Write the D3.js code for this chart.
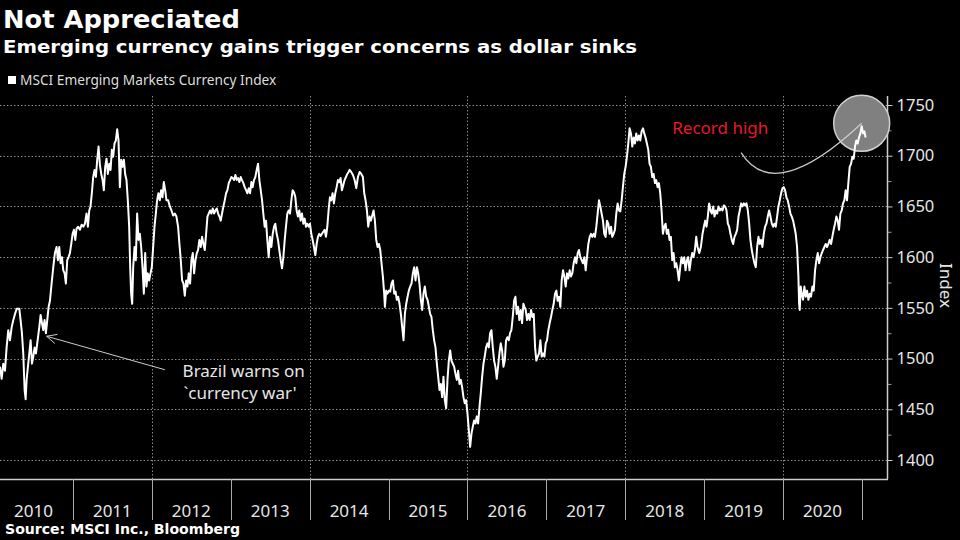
<!DOCTYPE html>
<html>
<head>
<meta charset="utf-8">
<script src="https://cdn.jsdelivr.net/npm/d3@7"></script>
<style>
  html, body { margin: 0; padding: 0; background: #000; }
  svg { display: block; }
</style>
</head>
<body>
<svg id="chart" width="960" height="540"></svg>
<script>
// MSCI Emerging Markets Currency Index: [decimal year, index]
var emCurrencyIndex = [
  [2010.076,1492],[2010.097,1480],[2010.118,1495],[2010.139,1488],[2010.160,1511],[2010.181,1528],[2010.202,1518],[2010.224,1531],[2010.245,1538],[2010.266,1544],[2010.287,1549],[2010.321,1549],[2010.337,1538],[2010.354,1525],[2010.371,1505],[2010.388,1469],[2010.401,1460],[2010.413,1479],[2010.430,1492],[2010.447,1505],[2010.464,1518],[2010.481,1495],[2010.498,1502],[2010.515,1511],[2010.532,1505],[2010.548,1515],[2010.574,1531],[2010.591,1543],[2010.608,1535],[2010.624,1528],[2010.641,1538],[2010.658,1525],[2010.675,1538],[2010.692,1551],[2010.709,1557],[2010.730,1574],[2010.751,1590],[2010.772,1604],[2010.793,1610],[2010.810,1597],[2010.827,1610],[2010.844,1594],[2010.861,1600],[2010.878,1587],[2010.895,1584],[2010.911,1574],[2010.928,1597],[2010.945,1600],[2010.962,1604],[2010.979,1613],[2010.996,1623],
  [2011.013,1627],[2011.030,1617],[2011.046,1628],[2011.067,1630],[2011.089,1627],[2011.110,1632],[2011.131,1630],[2011.152,1633],[2011.173,1643],[2011.190,1630],[2011.207,1646],[2011.223,1650],[2011.240,1663],[2011.257,1679],[2011.274,1686],[2011.291,1679],[2011.308,1696],[2011.325,1709],[2011.342,1691],[2011.359,1682],[2011.376,1676],[2011.392,1666],[2011.409,1689],[2011.426,1697],[2011.443,1682],[2011.460,1692],[2011.477,1686],[2011.494,1706],[2011.510,1699],[2011.527,1712],[2011.544,1715],[2011.561,1726],[2011.578,1715],[2011.595,1669],[2011.612,1696],[2011.629,1689],[2011.646,1696],[2011.662,1682],[2011.679,1676],[2011.696,1656],[2011.713,1630],[2011.726,1590],[2011.738,1564],[2011.751,1554],[2011.764,1590],[2011.781,1610],[2011.797,1597],[2011.814,1643],[2011.831,1617],[2011.848,1623],[2011.865,1610],[2011.882,1590],[2011.899,1564],[2011.916,1604],[2011.932,1571],[2011.949,1584],[2011.966,1577],[2011.983,1584],
  [2012.000,1590],[2012.017,1610],[2012.034,1630],[2012.051,1643],[2012.067,1656],[2012.084,1663],[2012.101,1656],[2012.118,1666],[2012.135,1659],[2012.152,1674],[2012.169,1666],[2012.186,1656],[2012.207,1656],[2012.228,1650],[2012.249,1646],[2012.270,1641],[2012.291,1643],[2012.312,1640],[2012.333,1630],[2012.350,1613],[2012.367,1597],[2012.384,1577],[2012.401,1574],[2012.418,1562],[2012.435,1577],[2012.451,1571],[2012.468,1584],[2012.485,1574],[2012.502,1597],[2012.519,1604],[2012.536,1584],[2012.553,1597],[2012.570,1604],[2012.586,1607],[2012.603,1617],[2012.620,1610],[2012.637,1620],[2012.654,1613],[2012.671,1607],[2012.688,1623],[2012.705,1640],[2012.721,1643],[2012.738,1646],[2012.755,1643],[2012.772,1648],[2012.789,1643],[2012.806,1646],[2012.823,1648],[2012.840,1643],[2012.857,1640],[2012.873,1636],[2012.890,1643],[2012.907,1650],[2012.924,1656],[2012.941,1663],[2012.958,1666],[2012.975,1673],[2012.992,1676],
  [2013.008,1679],[2013.025,1678],[2013.042,1676],[2013.059,1681],[2013.076,1676],[2013.093,1678],[2013.110,1674],[2013.127,1679],[2013.143,1676],[2013.160,1673],[2013.177,1669],[2013.194,1666],[2013.211,1663],[2013.228,1668],[2013.245,1663],[2013.262,1674],[2013.278,1669],[2013.295,1676],[2013.312,1679],[2013.329,1686],[2013.346,1692],[2013.363,1676],[2013.380,1666],[2013.397,1656],[2013.413,1643],[2013.430,1630],[2013.447,1636],[2013.464,1617],[2013.481,1600],[2013.498,1620],[2013.515,1610],[2013.532,1623],[2013.549,1630],[2013.565,1633],[2013.582,1623],[2013.599,1617],[2013.616,1607],[2013.633,1597],[2013.650,1589],[2013.667,1600],[2013.684,1617],[2013.700,1630],[2013.717,1643],[2013.734,1646],[2013.751,1643],[2013.768,1656],[2013.785,1666],[2013.802,1664],[2013.819,1659],[2013.835,1646],[2013.852,1640],[2013.869,1646],[2013.886,1636],[2013.903,1643],[2013.920,1633],[2013.937,1638],[2013.954,1630],[2013.970,1633],[2013.987,1630],
  [2014.004,1633],[2014.021,1623],[2014.038,1617],[2014.055,1610],[2014.072,1602],[2014.089,1613],[2014.105,1620],[2014.122,1623],[2014.139,1621],[2014.156,1623],[2014.173,1625],[2014.190,1627],[2014.207,1620],[2014.224,1630],[2014.240,1646],[2014.257,1659],[2014.274,1656],[2014.291,1663],[2014.308,1653],[2014.325,1663],[2014.342,1669],[2014.359,1676],[2014.375,1674],[2014.392,1678],[2014.409,1666],[2014.426,1671],[2014.443,1676],[2014.460,1679],[2014.477,1682],[2014.494,1684],[2014.506,1686],[2014.527,1684],[2014.549,1681],[2014.570,1676],[2014.591,1668],[2014.612,1679],[2014.633,1684],[2014.654,1682],[2014.675,1679],[2014.692,1663],[2014.709,1656],[2014.726,1646],[2014.743,1630],[2014.760,1640],[2014.776,1636],[2014.793,1641],[2014.810,1646],[2014.827,1636],[2014.844,1617],[2014.861,1610],[2014.878,1613],[2014.895,1607],[2014.911,1594],[2014.928,1581],[2014.945,1564],[2014.954,1551],[2014.970,1567],[2014.987,1564],
  [2015.004,1567],[2015.021,1566],[2015.038,1574],[2015.055,1577],[2015.072,1564],[2015.089,1566],[2015.105,1558],[2015.122,1561],[2015.139,1554],[2015.156,1544],[2015.173,1531],[2015.190,1518],[2015.207,1544],[2015.224,1554],[2015.241,1561],[2015.257,1567],[2015.274,1571],[2015.291,1574],[2015.308,1584],[2015.325,1590],[2015.342,1577],[2015.359,1590],[2015.376,1584],[2015.392,1574],[2015.409,1558],[2015.426,1548],[2015.443,1564],[2015.460,1571],[2015.477,1561],[2015.494,1558],[2015.511,1551],[2015.527,1544],[2015.544,1541],[2015.561,1528],[2015.578,1518],[2015.595,1511],[2015.612,1495],[2015.629,1482],[2015.646,1469],[2015.662,1475],[2015.679,1462],[2015.696,1482],[2015.713,1459],[2015.730,1451],[2015.747,1479],[2015.764,1498],[2015.781,1508],[2015.797,1498],[2015.814,1495],[2015.831,1492],[2015.848,1485],[2015.865,1479],[2015.882,1488],[2015.899,1475],[2015.916,1479],[2015.932,1472],[2015.949,1462],[2015.966,1456],[2015.983,1459],
  [2016.000,1446],[2016.017,1430],[2016.034,1413],[2016.051,1426],[2016.068,1433],[2016.084,1439],[2016.101,1436],[2016.118,1443],[2016.135,1436],[2016.152,1452],[2016.169,1466],[2016.186,1482],[2016.203,1495],[2016.219,1502],[2016.236,1511],[2016.253,1515],[2016.270,1511],[2016.287,1525],[2016.304,1528],[2016.321,1511],[2016.338,1498],[2016.354,1492],[2016.371,1480],[2016.388,1492],[2016.405,1505],[2016.422,1515],[2016.439,1508],[2016.456,1492],[2016.473,1498],[2016.489,1518],[2016.506,1521],[2016.523,1518],[2016.540,1525],[2016.557,1528],[2016.574,1541],[2016.591,1557],[2016.608,1561],[2016.624,1544],[2016.641,1551],[2016.658,1538],[2016.675,1548],[2016.692,1535],[2016.709,1554],[2016.722,1551],[2016.738,1548],[2016.755,1538],[2016.772,1544],[2016.789,1538],[2016.806,1548],[2016.823,1541],[2016.840,1544],[2016.857,1511],[2016.873,1498],[2016.890,1502],[2016.907,1505],[2016.924,1518],[2016.941,1502],[2016.958,1505],[2016.975,1502],[2016.992,1515],
  [2017.008,1518],[2017.025,1528],[2017.042,1535],[2017.059,1541],[2017.076,1548],[2017.093,1554],[2017.110,1564],[2017.127,1567],[2017.143,1557],[2017.160,1561],[2017.177,1551],[2017.194,1577],[2017.211,1587],[2017.228,1581],[2017.245,1571],[2017.262,1584],[2017.278,1579],[2017.295,1587],[2017.312,1581],[2017.329,1584],[2017.346,1594],[2017.363,1600],[2017.380,1594],[2017.397,1604],[2017.413,1607],[2017.430,1600],[2017.447,1597],[2017.464,1594],[2017.481,1600],[2017.498,1587],[2017.515,1600],[2017.532,1613],[2017.549,1620],[2017.565,1623],[2017.582,1620],[2017.599,1623],[2017.616,1620],[2017.633,1630],[2017.650,1643],[2017.667,1656],[2017.684,1650],[2017.700,1643],[2017.717,1636],[2017.734,1623],[2017.751,1620],[2017.768,1636],[2017.785,1633],[2017.802,1623],[2017.819,1630],[2017.835,1620],[2017.852,1623],[2017.869,1627],[2017.886,1643],[2017.903,1653],[2017.920,1646],[2017.937,1645],[2017.954,1656],[2017.970,1669],[2017.987,1682],
  [2018.004,1689],[2018.021,1699],[2018.038,1712],[2018.055,1727],[2018.072,1722],[2018.089,1709],[2018.106,1718],[2018.122,1712],[2018.139,1722],[2018.156,1715],[2018.173,1720],[2018.190,1715],[2018.207,1724],[2018.224,1727],[2018.241,1722],[2018.257,1718],[2018.274,1712],[2018.291,1706],[2018.308,1692],[2018.325,1689],[2018.342,1679],[2018.359,1682],[2018.376,1673],[2018.392,1676],[2018.409,1669],[2018.426,1673],[2018.443,1663],[2018.460,1646],[2018.477,1623],[2018.494,1630],[2018.511,1633],[2018.527,1623],[2018.544,1627],[2018.561,1617],[2018.578,1620],[2018.595,1597],[2018.612,1604],[2018.629,1590],[2018.646,1594],[2018.663,1587],[2018.679,1577],[2018.696,1590],[2018.713,1600],[2018.730,1594],[2018.747,1600],[2018.764,1587],[2018.781,1597],[2018.797,1600],[2018.814,1587],[2018.831,1597],[2018.848,1604],[2018.865,1600],[2018.882,1607],[2018.899,1620],[2018.916,1610],[2018.937,1604],[2018.958,1610],[2018.979,1623],[2018.996,1630],
  [2019.013,1636],[2019.030,1630],[2019.046,1640],[2019.063,1653],[2019.080,1646],[2019.097,1643],[2019.114,1650],[2019.131,1640],[2019.148,1646],[2019.165,1643],[2019.181,1650],[2019.198,1646],[2019.215,1648],[2019.232,1646],[2019.249,1651],[2019.266,1650],[2019.283,1646],[2019.300,1633],[2019.316,1630],[2019.333,1623],[2019.350,1617],[2019.367,1613],[2019.384,1620],[2019.401,1623],[2019.418,1627],[2019.435,1640],[2019.451,1646],[2019.468,1653],[2019.485,1650],[2019.502,1653],[2019.519,1651],[2019.536,1653],[2019.553,1646],[2019.570,1633],[2019.586,1617],[2019.603,1607],[2019.620,1600],[2019.637,1594],[2019.654,1590],[2019.671,1610],[2019.688,1620],[2019.705,1613],[2019.722,1617],[2019.738,1610],[2019.755,1623],[2019.772,1630],[2019.789,1633],[2019.806,1640],[2019.823,1646],[2019.840,1640],[2019.857,1633],[2019.874,1630],[2019.890,1633],[2019.907,1630],[2019.924,1640],[2019.941,1650],[2019.958,1656],[2019.975,1663],[2019.992,1668],
  [2020.008,1669],[2020.025,1666],[2020.042,1659],[2020.059,1656],[2020.076,1650],[2020.093,1643],[2020.110,1640],[2020.127,1636],[2020.143,1630],[2020.160,1623],[2020.177,1610],[2020.194,1581],[2020.203,1554],[2020.211,1548],[2020.224,1571],[2020.236,1564],[2020.253,1558],[2020.270,1571],[2020.287,1561],[2020.304,1567],[2020.321,1558],[2020.338,1564],[2020.354,1561],[2020.371,1571],[2020.388,1567],[2020.405,1587],[2020.422,1597],[2020.439,1604],[2020.456,1594],[2020.473,1600],[2020.490,1604],[2020.506,1607],[2020.523,1610],[2020.540,1613],[2020.557,1610],[2020.574,1613],[2020.591,1617],[2020.608,1613],[2020.624,1620],[2020.641,1627],[2020.658,1633],[2020.675,1640],[2020.692,1636],[2020.709,1627],[2020.726,1643],[2020.743,1646],[2020.759,1653],[2020.776,1656],[2020.793,1666],[2020.810,1656],[2020.827,1673],[2020.844,1689],[2020.861,1692],[2020.878,1699],[2020.895,1697],[2020.911,1709],[2020.928,1715],[2020.945,1712],[2020.962,1718],[2020.979,1722],[2020.996,1729],
  [2021.013,1722],[2021.030,1724],[2021.046,1718]
];

var yearLabels = [2010, 2011, 2012, 2013, 2014, 2015, 2016, 2017, 2018, 2019, 2020];
var yearBreaks = [2011, 2012, 2013, 2014, 2015, 2016, 2017, 2018, 2019, 2020, 2021];
var gridYears = [2012, 2014, 2016, 2018, 2020];
var yTicks = [1400, 1450, 1500, 1550, 1600, 1650, 1700, 1750];
var yMinorTicks = [1425, 1475, 1525, 1575, 1625, 1675, 1725];

var titleText = "Not Appreciated";
var subtitleText = "Emerging currency gains trigger concerns as dollar sinks";
var legendText = "MSCI Emerging Markets Currency Index";
var sourceText = "Source: MSCI Inc., Bloomberg";
var brazilNote = ["Brazil warns on", "`currency war'"];
var brazilPoint = [2010.667, 1522];   // arrow tip (date, index)
var brazilTail = [2012.165, 1489];
var recordNote = "Record high";
var recordPoint = [2020.996, 1729];
var recordCurve = [[2019.468, 1703], [2019.886, 1651]];  // curve start, control

/*************************************************
    Setup
 *************************************************/
var svg = d3.select("#chart");
var plotRight = 887, plotTop = 96, plotBottom = 479;

var x = d3.scaleLinear().domain([2010, 2021]).range([-6, 862]);
var y = d3.scaleLinear().domain([1400, 1750]).range([460, 105]);

var sans = "'Noto Sans', 'Open Sans', sans-serif";
var bold = "'DejaVu Sans', Verdana, sans-serif";

svg.append("rect").attr("width", 960).attr("height", 540).attr("fill", "#000");

// Titles
svg.append("text").attr("x", 3).attr("y", 28)
    .attr("fill", "#fff").attr("font-family", bold).attr("font-weight", "bold")
    .attr("font-size", 25).attr("textLength", 237).attr("lengthAdjust", "spacingAndGlyphs")
    .text(titleText);
svg.append("text").attr("x", 3).attr("y", 53)
    .attr("fill", "#fff").attr("font-family", bold).attr("font-weight", "bold")
    .attr("font-size", 18).attr("textLength", 634).attr("lengthAdjust", "spacingAndGlyphs")
    .text(subtitleText);

// Legend
svg.append("rect").attr("x", 8).attr("y", 76).attr("width", 8).attr("height", 8).attr("fill", "#fff");
svg.append("text").attr("x", 20).attr("y", 85)
    .attr("fill", "#ddd").attr("font-family", sans).attr("font-size", 13.7)
    .text(legendText);

// Grid
var grid = svg.append("g").attr("stroke", "#8a8a8a").attr("stroke-dasharray", "1.5,2").attr("stroke-width", 1);
grid.selectAll("line.h").data(yTicks).enter().append("line")
    .attr("x1", 0).attr("x2", plotRight)
    .attr("y1", function(d) { return Math.round(y(d)) + 0.5; })
    .attr("y2", function(d) { return Math.round(y(d)) + 0.5; });
grid.selectAll("line.v").data(gridYears).enter().append("line")
    .attr("x1", function(d) { return Math.round(x(d)) + 0.5; })
    .attr("x2", function(d) { return Math.round(x(d)) + 0.5; })
    .attr("y1", plotTop).attr("y2", plotBottom);

// Right axis
var yAxis = d3.axisRight(y).tickValues(yTicks).tickSize(5).tickPadding(4).tickFormat(d3.format("d"));
var yAxisG = svg.append("g").attr("transform", "translate(" + (plotRight + 0.5) + ",0)").call(yAxis);
yAxisG.select(".domain").remove();
yAxisG.selectAll("line").attr("stroke", "#ccc");
yAxisG.selectAll("text").attr("fill", "#e6e6e6").attr("font-family", sans).attr("font-size", 16.5);
var minor = d3.axisRight(y).tickValues(yMinorTicks).tickSize(4).tickFormat("");
var minorG = svg.append("g").attr("transform", "translate(" + (plotRight + 0.5) + ",0)").call(minor);
minorG.select(".domain").remove();
minorG.selectAll("line").attr("stroke", "#999");

svg.append("line").attr("x1", plotRight + 0.5).attr("x2", plotRight + 0.5)
    .attr("y1", plotTop).attr("y2", plotBottom).attr("stroke", "#ccc").attr("stroke-width", 1.5);
svg.append("text")
    .attr("transform", "translate(940," + ((plotTop + plotBottom) / 2 - 2) + ") rotate(90)")
    .attr("text-anchor", "middle").attr("fill", "#e6e6e6")
    .attr("font-family", sans).attr("font-size", 17)
    .text("Index");

// Bottom axis
svg.append("line").attr("x1", 0).attr("x2", plotRight + 1)
    .attr("y1", plotBottom + 0.5).attr("y2", plotBottom + 0.5).attr("stroke", "#ccc").attr("stroke-width", 1.5);
svg.selectAll("line.sep").data(yearBreaks).enter().append("line")
    .attr("class", "sep")
    .attr("x1", function(d) { return Math.round(x(d)) + 0.5; })
    .attr("x2", function(d) { return Math.round(x(d)) + 0.5; })
    .attr("y1", plotBottom).attr("y2", 520)
    .attr("stroke", "#aaa").attr("stroke-width", 1);
svg.selectAll("text.year").data(yearLabels).enter().append("text")
    .attr("class", "year")
    .attr("x", function(d) { return x(d + 0.5); })
    .attr("y", 517)
    .attr("text-anchor", "middle").attr("fill", "#e6e6e6")
    .attr("font-family", sans).attr("font-size", 17)
    .text(function(d) { return d; });

// Source
svg.append("text").attr("x", 5).attr("y", 534)
    .attr("fill", "#fff").attr("font-family", bold).attr("font-weight", "bold")
    .attr("font-size", 13.5).attr("textLength", 235).attr("lengthAdjust", "spacingAndGlyphs")
    .text(sourceText);

// Record-high highlight circle
var rx = x(recordPoint[0]), ry = y(recordPoint[1]) - 3;
svg.append("circle").attr("cx", rx).attr("cy", ry).attr("r", 28)
    .attr("fill", "#808080").attr("stroke", "#d0d0d0").attr("stroke-width", 1.5);

// Series line
var line = d3.line()
    .x(function(d) { return x(d[0]); })
    .y(function(d) { return y(d[1]); });
svg.append("path").datum(emCurrencyIndex)
    .attr("d", line)
    .attr("fill", "none").attr("stroke", "#fff")
    .attr("stroke-width", 2).attr("stroke-linejoin", "round");

// Record-high annotation
svg.append("path")
    .attr("d", "M" + x(recordCurve[0][0]) + "," + y(recordCurve[0][1]) +
        " Q" + x(recordCurve[1][0]) + "," + y(recordCurve[1][1]) + " " + rx + "," + ry)
    .attr("fill", "none").attr("stroke", "#ccc").attr("stroke-width", 1.2);
svg.append("text").attr("x", x(2018.595)).attr("y", y(1721.4))
    .attr("fill", "#e8172c").attr("font-family", sans).attr("font-size", 17)
    .text(recordNote);

// Brazil annotation
var bx = x(brazilPoint[0]), by = y(brazilPoint[1]);
var tx = x(brazilTail[0]), ty = y(brazilTail[1]);
var ang = Math.atan2(ty - by, tx - bx);
svg.append("line").attr("x1", tx).attr("y1", ty).attr("x2", bx).attr("y2", by)
    .attr("stroke", "#ccc").attr("stroke-width", 1);
[0.45, -0.45].forEach(function(da) {
    svg.append("line").attr("x1", bx).attr("y1", by)
        .attr("x2", bx + 11 * Math.cos(ang + da)).attr("y2", by + 11 * Math.sin(ang + da))
        .attr("stroke", "#ccc").attr("stroke-width", 1);
});
svg.selectAll("text.brazil").data(brazilNote).enter().append("text")
    .attr("class", "brazil")
    .attr("x", function(d, i) { return x(2012.39) + (i ? 1 : 0); })
    .attr("y", function(d, i) { return y(1482) + i * 22; })
    .attr("fill", "#e6e6e6").attr("font-family", sans).attr("font-size", 17)
    .text(function(d) { return d; });
</script>
</body>
</html>
